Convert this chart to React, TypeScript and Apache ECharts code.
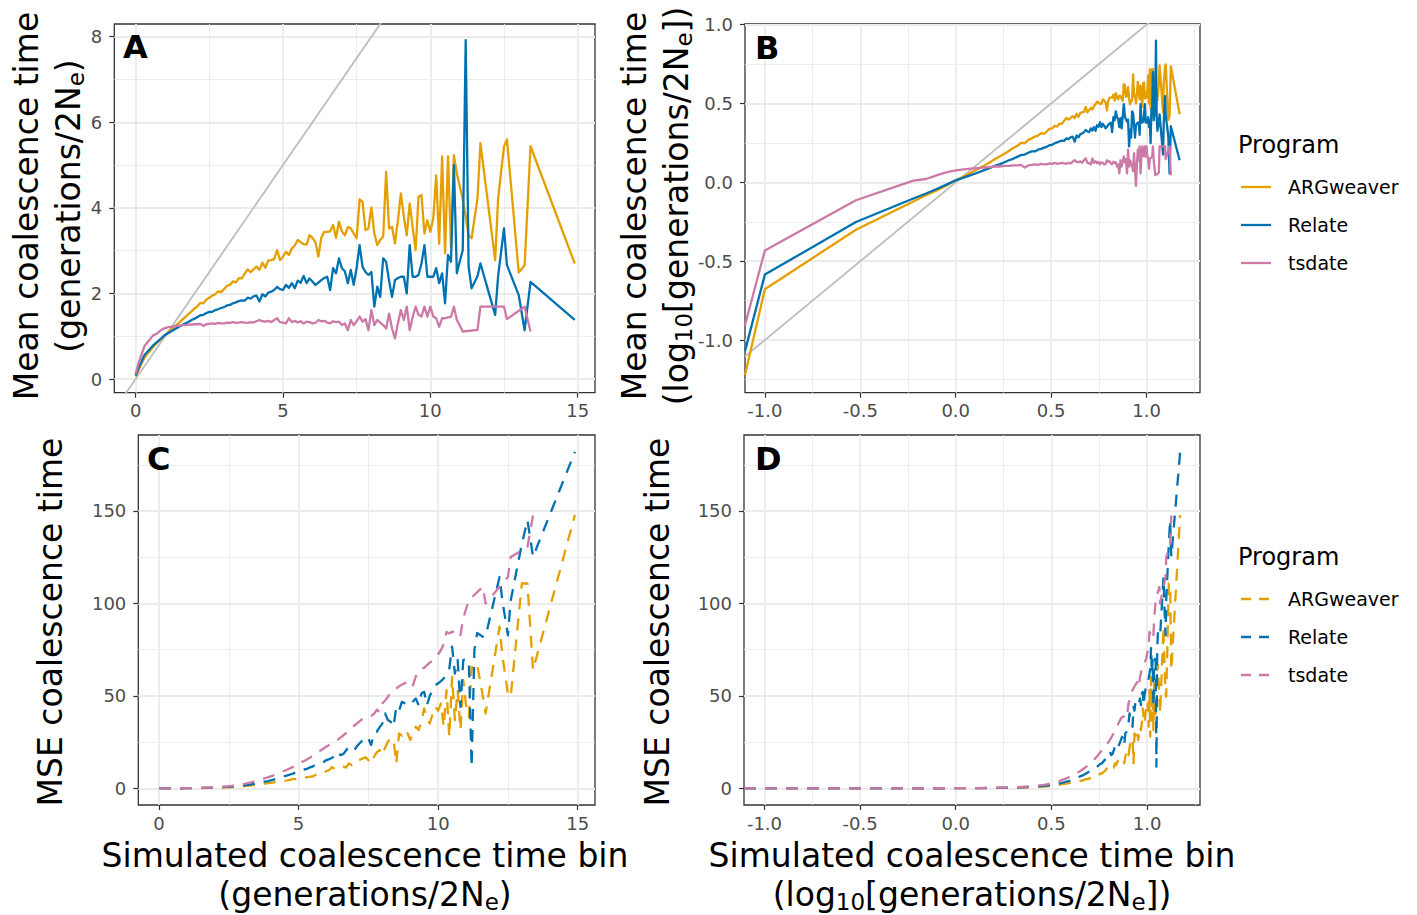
import React, { useEffect, useRef } from "react";
import * as echarts from "echarts";

// Simulated coalescence time bins (generations / 2Ne)
const BIN_X = [
  0, 0.1, 0.3, 0.6, 0.7, 0.8, 0.9,
  1.0, 1.1, 1.2, 1.3, 1.4, 1.5, 1.6, 1.7, 1.8, 1.9,
  2.0, 2.1, 2.2, 2.3, 2.4, 2.5, 2.6, 2.7, 2.8, 2.9,
  3.0, 3.1, 3.2, 3.3, 3.4, 3.5, 3.6, 3.7, 3.8, 3.9,
  4.0, 4.1, 4.2, 4.3, 4.4, 4.5, 4.6, 4.7, 4.8, 4.9,
  5.0, 5.1, 5.2, 5.3, 5.4, 5.5, 5.6, 5.7, 5.8, 5.9,
  6.0, 6.1, 6.2, 6.3, 6.4, 6.5, 6.6, 6.7, 6.8, 6.9,
  7.0, 7.1, 7.2, 7.3, 7.4, 7.5, 7.6, 7.7, 7.8, 7.9,
  8.0, 8.1, 8.2, 8.3, 8.4, 8.5, 8.6, 8.7, 8.8, 8.9,
  9.0, 9.1, 9.2, 9.3, 9.4, 9.5, 9.6, 9.7, 9.8, 9.9,
  10.0, 10.1, 10.2, 10.3, 10.4, 10.5, 10.6, 10.7, 10.8,
  10.9, 11.0, 11.1, 11.2, 11.3, 11.4, 11.6, 11.7, 12.2, 12.3, 12.5, 12.6, 13.0, 13.2, 13.4, 14.9,
];

// Mean inferred coalescence time per bin
const ARGWEAVER_MEAN = [
  0.06, 0.21, 0.5, 0.755, 0.83, 0.89, 0.96,
  1.03, 1.09, 1.15, 1.21, 1.27, 1.33, 1.4, 1.46, 1.52, 1.58,
  1.65, 1.7, 1.78, 1.77, 1.86, 1.9, 1.95, 1.98, 2.05, 2.03,
  2.1, 2.18, 2.2, 2.28, 2.26, 2.36, 2.35, 2.46, 2.56, 2.5,
  2.56, 2.63, 2.55, 2.72, 2.6, 2.77, 2.78, 2.8, 3.01, 2.78,
  2.86, 2.97, 2.9, 3.05, 3.12, 3.25, 3.2, 3.15, 3.14, 3.36,
  3.3, 3.2, 2.86, 3.3, 3.44, 3.44, 3.45, 3.6, 3.3, 3.68,
  3.45, 3.36, 3.55, 3.52, 3.4, 3.29, 4.2, 4.14, 3.48, 3.52,
  4.01, 3.4, 3.13, 3.25, 3.33, 4.84, 3.52, 3.56, 3.17, 3.7,
  4.34, 3.8, 3.36, 4.1, 3.55, 3.01, 4.26, 4.3, 3.4, 3.71,
  3.44, 3.75, 4.76, 3.16, 5.2, 2.94, 5.2, 3.09, 5.23,
  4.8, 4.5, 4.2, 3.8, 3.35, 3.29, 4.22, 5.51, 2.78, 4.22, 5.43, 5.6, 2.49, 2.66, 5.44, 2.7,
];

const RELATE_MEAN = [
  0.085, 0.26, 0.56, 0.79, 0.85, 0.91, 0.97,
  1.03, 1.07, 1.11, 1.15, 1.19, 1.23, 1.27, 1.3, 1.34, 1.38,
  1.41, 1.45, 1.49, 1.5, 1.54, 1.57, 1.57, 1.61, 1.63, 1.66,
  1.68, 1.72, 1.73, 1.77, 1.79, 1.82, 1.84, 1.83, 1.9, 1.88,
  1.93, 1.95, 1.81, 1.98, 1.93, 2.02, 2.04, 2.08, 2.15, 2.1,
  2.08, 2.2, 2.13, 2.24, 2.12, 2.3, 2.25, 2.41, 2.24, 2.35,
  2.28, 2.2, 2.25, 2.31, 2.36, 2.39, 2.08, 2.59, 2.47, 2.82,
  2.59, 2.52, 2.24, 2.55, 2.2, 2.6, 3.13, 2.62, 2.5, 2.43,
  2.5, 1.69, 2.16, 1.92, 2.82, 2.74, 2.3, 1.92, 2.31, 2.36,
  2.39, 2.39, 2.0, 3.13, 2.39, 2.39, 2.43, 2.7, 3.13, 2.39,
  2.39, 2.39, 2.59, 2.24, 2.47, 1.77, 2.9, 2.74, 5.0,
  2.47, 2.75, 3.01, 7.92, 2.62, 2.12, 2.4, 2.7, 1.5, 2.4, 3.52, 2.66, 1.96, 1.14, 2.27, 1.38,
];

const TSDATE_MEAN = [
  0.124, 0.37, 0.77, 1.025, 1.05, 1.11, 1.16,
  1.19, 1.21, 1.22, 1.23, 1.24, 1.25, 1.26, 1.26, 1.27, 1.27,
  1.28, 1.28, 1.29, 1.24, 1.28, 1.29, 1.3, 1.29, 1.31, 1.3,
  1.3, 1.32, 1.31, 1.33, 1.31, 1.32, 1.33, 1.32, 1.31, 1.33,
  1.32, 1.35, 1.38, 1.35, 1.34, 1.36, 1.33, 1.38, 1.42, 1.33,
  1.32, 1.3, 1.42, 1.33, 1.36, 1.32, 1.35, 1.3, 1.34, 1.33,
  1.3, 1.31, 1.38, 1.35, 1.36, 1.32, 1.3, 1.35, 1.33, 1.34,
  1.26, 1.3, 1.14, 1.38, 1.26, 1.35, 1.46, 1.34, 1.4, 1.14,
  1.61, 1.26, 1.38, 1.32, 1.26, 1.18, 1.53, 1.18, 0.95, 1.3,
  1.61, 1.38, 1.69, 1.14, 1.45, 1.69, 1.5, 1.46, 1.69, 1.46,
  1.69, 1.46, 1.42, 1.22, 1.42, 1.42, 1.44, 1.45, 1.69,
  1.38, 1.25, 1.11, null, null, null, 1.15, 1.69, null, null, 1.69, 1.4, null, 1.69, 1.11, null,
];

// Mean squared error of the inferred coalescence time per bin
const ARGWEAVER_MSE = [
  0, 0, 0.02, 0.05, 0.06, 0.07, 0.08,
  0.1, 0.1, 0.12, 0.13, 0.15, 0.17, 0.19, 0.21, 0.24, 0.27,
  0.3, 0.35, 0.4, 0.45, 0.5, 0.6, 0.7, 0.8, 0.9, 1.0,
  1.1, 1.3, 1.4, 1.6, 1.8, 2.0, 2.3, 2.4, 2.6, 2.8,
  3.0, 3.2, 3.4, 3.6, 3.9, 4.1, 4.3, 4.6, 5.1, 5.0,
  5.4, 5.6, 6.1, 5.9, 6.3, 6.4, 7.2, 8.1, 7.9, 8.6,
  9.4, 9.9, 11.5, 10.5, 10.8, 11.2, 11.8, 11.2, 13.5, 12.6,
  14.4, 15.2, 15.5, 16.2, 16.8, 15.3, 13.5, 17.1, 19.5, 20.7,
  18, 22, 25.2, 27, 26.5, 13.5, 29.7, 28.5, 31.5, 30,
  26.1, 30, 33.3, 31.5, 36, 43.2, 38, 35.1, 40, 44.1,
  42, 45.9, 33.3, 53.1, 27.9, 60.3, 36.9, 53.1, 31.5,
  58.5, 45, 38.7, 65.7, 64, 66.6, 50, 40.5, 87.4, 72, 51, 49.6, 110.8, 110.8, 64, 147.8,
];

const RELATE_MSE = [
  0, 0, 0.01, 0.03, 0.04, 0.05, 0.06,
  0.08, 0.1, 0.12, 0.15, 0.18, 0.22, 0.26, 0.3, 0.35, 0.4,
  0.46, 0.52, 0.6, 0.68, 0.76, 0.85, 0.95, 1.05, 1.2, 1.35,
  1.5, 1.7, 1.9, 2.1, 2.4, 2.7, 3.0, 3.3, 3.6, 3.9,
  4.3, 4.7, 5.2, 5.6, 6.1, 6.6, 7.0, 7.5, 8.0, 8.6,
  9.1, 9.5, 10.2, 10.5, 11.3, 11.8, 12.6, 13.2, 13.5, 14.3,
  15.3, 15.8, 16.6, 17.5, 19.8, 18.0, 18.5, 20.5, 22.5, 21.5,
  20.7, 23, 24.5, 26.1, 27.9, 27.0, 23.4, 29.7, 30.5, 33,
  35, 40.5, 37, 36, 33.3, 44, 42, 46.8, 46, 45.5,
  45, 47, 48.6, 45, 51.3, 52.2, 45, 50, 53.1, 55.8,
  56.8, 58, 59.4, 62, 64.8, 76.6, 62.1, 69.4, 44.1,
  69.4, 70, 68.5, 11.7, 75, 84, 82, 82.2, 114.3, 101.6, 82.8, 101.6, 132.3, 145, 125.2, 182,
];

const TSDATE_MSE = [
  0, 0, 0.01, 0.03, 0.05, 0.06, 0.08,
  0.1, 0.12, 0.15, 0.18, 0.22, 0.27, 0.32, 0.38, 0.45, 0.52,
  0.6, 0.7, 0.8, 0.9, 1.0, 1.15, 1.3, 1.5, 1.7, 1.9,
  2.2, 2.5, 2.9, 3.3, 3.7, 4.1, 4.6, 5.0, 5.5, 6.0,
  6.5, 7.0, 7.6, 8.2, 8.9, 9.5, 10.2, 10.9, 11.6, 12.4,
  13.3, 14.2, 14.8, 15.6, 16.6, 17.5, 18.5, 19.6, 20.6, 21.6,
  22.6, 23.5, 24.2, 25.2, 26.2, 27.4, 28.6, 29.9, 31.2, 32.6,
  34.0, 35.2, 36.5, 37.6, 38.5, 38.7, 39.2, 40.2, 42.5, 41.3,
  45.9, 47.5, 49.5, 52, 53.2, 54, 55.2, 56, 56.8, 57.6,
  58.5, 55.8, 60.5, 62.7, 64.8, 65.2, 66.6, 68, 69, 70.2,
  72.5, 74.7, 78, 84.6, 83.8, 84.7, 84.5, 85.6, 82.9,
  92, 97, 101.8, null, null, null, 109, 100, null, null, 114.3, 125.1, null, 130.5, 147.6, null,
];

const PROGRAMS = ["ARGweaver", "Relate", "tsdate"];
const COLORS = ["#E69F00", "#0072B2", "#CC79A7"];
const MEANS = [ARGWEAVER_MEAN, RELATE_MEAN, TSDATE_MEAN];
const MSES = [ARGWEAVER_MSE, RELATE_MSE, TSDATE_MSE];

// Axis breaks
const LIN_X_TICKS = [0, 5, 10, 15];
const LIN_X_MINOR = [2.5, 7.5, 12.5];
const MEAN_Y_TICKS = [0, 2, 4, 6, 8];
const MEAN_Y_MINOR = [1, 3, 5, 7];
const LOG_TICKS = [-1, -0.5, 0, 0.5, 1];
const LOG_X_MINOR = [-0.75, -0.25, 0.25, 0.75, 1.25];
const LOG_Y_MINOR = [-1.25, -0.75, -0.25, 0.25, 0.75];
const MSE_Y_TICKS = [0, 50, 100, 150];
const MSE_Y_MINOR = [25, 75, 125, 175];

// Axis limits (panel extents)
const A_X = [-0.724, 15.588];
const A_Y = [-0.32, 8.297];
const B_X = [-1.104, 1.28];
const B_Y = [-1.334, 1.004];
const C_X = [-0.742, 15.62];
const C_Y = [-9.0, 191.1];
const D_X = [-1.107, 1.277];
const D_Y = [-9.0, 191.1];

const FONT = "DejaVu Sans";
const GRID_MAJOR = "#ebebeb";
const LINE_DASH = [12, 9];
const KEY_DASH = [10, 8];

type Pt = [number, number];

const linPairs = (ys: (number | null)[]): Pt[] =>
  BIN_X.map((x, i) => [x, ys[i]] as [number, number | null]).filter((p) => p[1] != null) as Pt[];

// log10 of the zero bin is -Inf, which lands on the panel's left edge
const logX = (x: number, edge: number) => (x > 0 ? Math.log10(x) : edge);

function majorAxis(gridIndex: number, lim: number[], ticks: number[], margin: number, fmt?: (v: number) => string) {
  return {
    type: "value",
    gridIndex,
    min: lim[0],
    max: lim[1],
    axisLine: { show: false, onZero: false },
    axisTick: { show: true, length: 5, lineStyle: { color: "#333333", width: 1.2 }, customValues: ticks },
    axisLabel: {
      show: true,
      customValues: ticks,
      formatter: fmt || ((v: number) => String(v)),
      color: "#4d4d4d",
      fontSize: 18,
      fontFamily: FONT,
      margin,
    },
    splitLine: { show: true, lineStyle: { color: GRID_MAJOR, width: 1.8 } },
  };
}

function minorAxis(gridIndex: number, lim: number[], ticks: number[], position: string) {
  return {
    type: "value",
    gridIndex,
    min: lim[0],
    max: lim[1],
    position,
    axisLine: { show: false, onZero: false },
    axisTick: { show: false, customValues: ticks },
    axisLabel: { show: false, customValues: ticks },
    splitLine: { show: true, lineStyle: { color: GRID_MAJOR, width: 0.9 } },
  };
}

function line(name: string, axis: number, data: Pt[], color: string, dashed: boolean) {
  return {
    type: "line",
    name,
    xAxisIndex: axis,
    yAxisIndex: axis,
    data,
    symbol: "none",
    showSymbol: false,
    clip: true,
    silent: true,
    z: 3,
    lineStyle: { color, width: 2.3, type: dashed ? LINE_DASH : "solid", cap: "butt", join: "round" },
  };
}

const oneDecimal = (v: number) => v.toFixed(1);

function titleText(x: number, y: number, rich: string, rotate: boolean) {
  return {
    type: "text",
    x,
    y,
    rotation: rotate ? Math.PI / 2 : 0,
    silent: true,
    style: {
      text: rich,
      align: "center",
      verticalAlign: "middle",
      fill: "#000",
      rich: {
        n: { fontSize: 33, fontFamily: FONT, lineHeight: 38, fill: "#000" },
        s: { fontSize: 23, fontFamily: FONT, lineHeight: 20, verticalAlign: "bottom", fill: "#000" },
      },
    },
  };
}

// Panel tags A-D, placed with the title component
function panelTag(left: number, top: number, letter: string) {
  return {
    text: letter,
    left,
    top,
    padding: 0,
    textStyle: { fontFamily: "DejaVu Sans, sans-serif", fontWeight: 700, fontSize: 32, color: "#000" },
  };
}

function legend(left: number, top: number, dashed: boolean) {
  const items: any[] = [
    {
      type: "text",
      x: left - 3,
      y: top,
      silent: true,
      style: { text: "Program", fontSize: 24, fontFamily: FONT, fill: "#000", align: "left", verticalAlign: "middle" },
    },
  ];
  PROGRAMS.forEach((p, i) => {
    const y = top + 42 + 38 * i;
    items.push({
      type: "line",
      silent: true,
      shape: { x1: left, y1: y, x2: left + 30, y2: y },
      style: { stroke: COLORS[i], lineWidth: 2.3, lineDash: dashed ? KEY_DASH : null },
    });
    items.push({
      type: "text",
      x: left + 47,
      y,
      silent: true,
      style: { text: p, fontSize: 19, fontFamily: FONT, fill: "#000", align: "left", verticalAlign: "middle" },
    });
  });
  return items;
}

function buildOption() {
  const series: any[] = [];

  // Identity lines (inferred = simulated)
  series.push({
    type: "line",
    xAxisIndex: 0,
    yAxisIndex: 0,
    data: [[A_X[0], A_X[0]], [A_X[1], A_X[1]]],
    symbol: "none",
    clip: true,
    silent: true,
    z: 2,
    lineStyle: { color: "#bdbdbd", width: 1.8 },
  });
  series.push({
    type: "line",
    xAxisIndex: 2,
    yAxisIndex: 2,
    data: [[B_X[0], B_X[0]], [B_X[1], B_X[1]]],
    symbol: "none",
    clip: true,
    silent: true,
    z: 2,
    lineStyle: { color: "#bdbdbd", width: 1.8 },
  });

  PROGRAMS.forEach((p, i) => {
    const mean = linPairs(MEANS[i]);
    const mse = linPairs(MSES[i]);
    series.push(line(p, 0, mean, COLORS[i], false));
    series.push(line(p, 2, mean.map(([x, y]) => [logX(x, B_X[0]), Math.log10(y)] as Pt), COLORS[i], false));
    series.push(line(p + " MSE", 4, mse, COLORS[i], true));
    series.push(line(p + " MSE", 6, mse.map(([x, y]) => [logX(x, D_X[0]), y] as Pt), COLORS[i], true));
  });

  const gridBase = { show: true, borderColor: "#333333", borderWidth: 1.3, backgroundColor: "transparent", containLabel: false };

  return {
    animation: false,
    backgroundColor: "#ffffff",
    title: [panelTag(123, 31, "A"), panelTag(755, 32, "B"), panelTag(147, 443, "C"), panelTag(755, 443, "D")],
    grid: [
      { ...gridBase, left: 114.3, top: 24, width: 480.7, height: 368.7 },
      { ...gridBase, left: 745, top: 24, width: 455, height: 368.7 },
      { ...gridBase, left: 138.3, top: 435, width: 456.7, height: 370 },
      { ...gridBase, left: 744, top: 435, width: 456, height: 370 },
    ],
    xAxis: [
      majorAxis(0, A_X, LIN_X_TICKS, 9),
      minorAxis(0, A_X, LIN_X_MINOR, "top"),
      majorAxis(1, B_X, LOG_TICKS, 9, oneDecimal),
      minorAxis(1, B_X, LOG_X_MINOR, "top"),
      majorAxis(2, C_X, LIN_X_TICKS, 9),
      minorAxis(2, C_X, LIN_X_MINOR, "top"),
      majorAxis(3, D_X, LOG_TICKS, 9, oneDecimal),
      minorAxis(3, D_X, LOG_X_MINOR, "top"),
    ],
    yAxis: [
      majorAxis(0, A_Y, MEAN_Y_TICKS, 12),
      minorAxis(0, A_Y, MEAN_Y_MINOR, "right"),
      majorAxis(1, B_Y, LOG_TICKS, 12, oneDecimal),
      minorAxis(1, B_Y, LOG_Y_MINOR, "right"),
      majorAxis(2, C_Y, MSE_Y_TICKS, 12),
      minorAxis(2, C_Y, MSE_Y_MINOR, "right"),
      majorAxis(3, D_Y, MSE_Y_TICKS, 12),
      minorAxis(3, D_Y, MSE_Y_MINOR, "right"),
    ],
    series,
    graphic: {
      elements: [
        titleText(26, 206, "{n|Mean coalescence time}", true),
        titleText(68, 206, "{n|(generations/2N}{s|e}{n|)}", true),
        titleText(634, 206, "{n|Mean coalescence time}", true),
        titleText(676, 206, "{n|(log}{s|10}{n|[generations/2N}{s|e}{n|])}", true),
        titleText(50, 622, "{n|MSE coalescence time}", true),
        titleText(657, 622, "{n|MSE coalescence time}", true),
        titleText(365, 855, "{n|Simulated coalescence time bin}", false),
        titleText(365, 894, "{n|(generations/2N}{s|e}{n|)}", false),
        titleText(972, 855, "{n|Simulated coalescence time bin}", false),
        titleText(972, 894, "{n|(log}{s|10}{n|[generations/2N}{s|e}{n|])}", false),
        ...legend(1241, 145, false),
        ...legend(1241, 557, true),
      ],
    },
  };
}

export default function App() {
  const ref = useRef<HTMLDivElement>(null);
  useEffect(() => {
    if (!ref.current) return;
    const chart = echarts.init(ref.current, null, { renderer: "svg" });
    chart.setOption(buildOption() as any);
    return () => chart.dispose();
  }, []);
  return (
    <div
      ref={ref}
      style={{ position: "absolute", left: 0, top: 0, width: 1417, height: 915, background: "#ffffff" }}
    />
  );
}
